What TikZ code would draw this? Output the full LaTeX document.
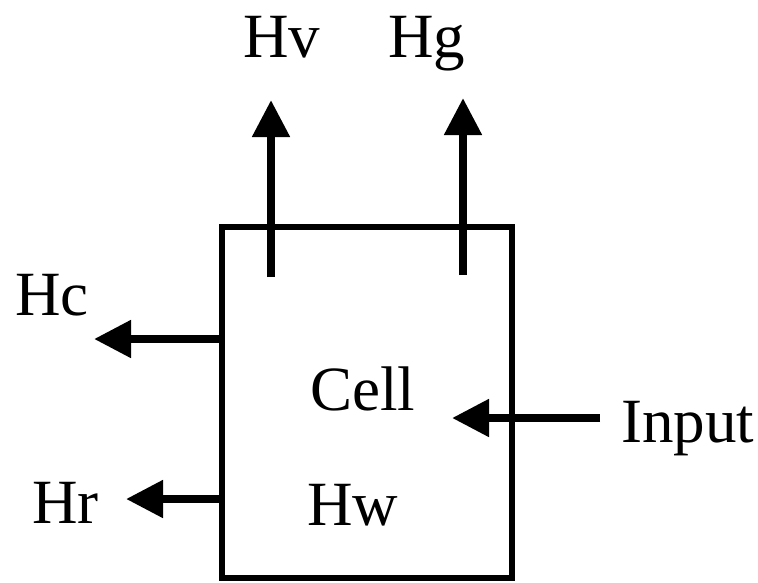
\documentclass[tikz,border=0pt]{standalone}
\usepackage{fontspec}
\setmainfont{Liberation Serif}
\usepackage{tikz}
\usetikzlibrary{arrows.meta, positioning}

\begin{document}
\begin{tikzpicture}[x=1pt, y=-1pt,
  cellbox/.style={rectangle, draw, line width=5.5pt,
                  minimum width=290pt, minimum height=351pt},
  lbl/.style={inner sep=0pt, anchor=base west,
              font=\rmfamily\fontsize{63}{70}\selectfont},
  flow/.style={-{Triangle[length=37pt, width=36pt]}, line width=8pt},
]
  \useasboundingbox (0,0) rectangle (758,582);

  \node[cellbox] (cell) at (367,402.5) {};
  \node[lbl] (celltxt) at (310,410) {Cell};
  \node[lbl] (hw) at (307,525) {Hw};

  \node[lbl] (hv) at (243,57) {Hv};
  \node[lbl] (hg) at (388,57) {Hg};
  \node[lbl] (hc) at (15,315) {Hc};
  \node[lbl] (hr) at (32,523) {Hr};
  \node[lbl] (input) at (621,442) {Input};

  \coordinate (hvfoot) at (271,277);
  \coordinate (hvtip) at (271,100);
  \coordinate (hgfoot) at (463,275);
  \coordinate (hgtip) at (463,98);
  \coordinate (hctip) at (94,339);
  \coordinate (hrtip) at (126,499);
  \coordinate (intail) at (600,418);
  \coordinate (intip) at (452,418);

  \draw[flow] (hvfoot) -- (hvtip);
  \draw[flow] (hgfoot) -- (hgtip);
  \draw[flow] (cell.west |- hctip) -- (hctip);
  \draw[flow] (cell.west |- hrtip) -- (hrtip);
  \draw[flow] (intail) -- (intip);
\end{tikzpicture}
\end{document}
